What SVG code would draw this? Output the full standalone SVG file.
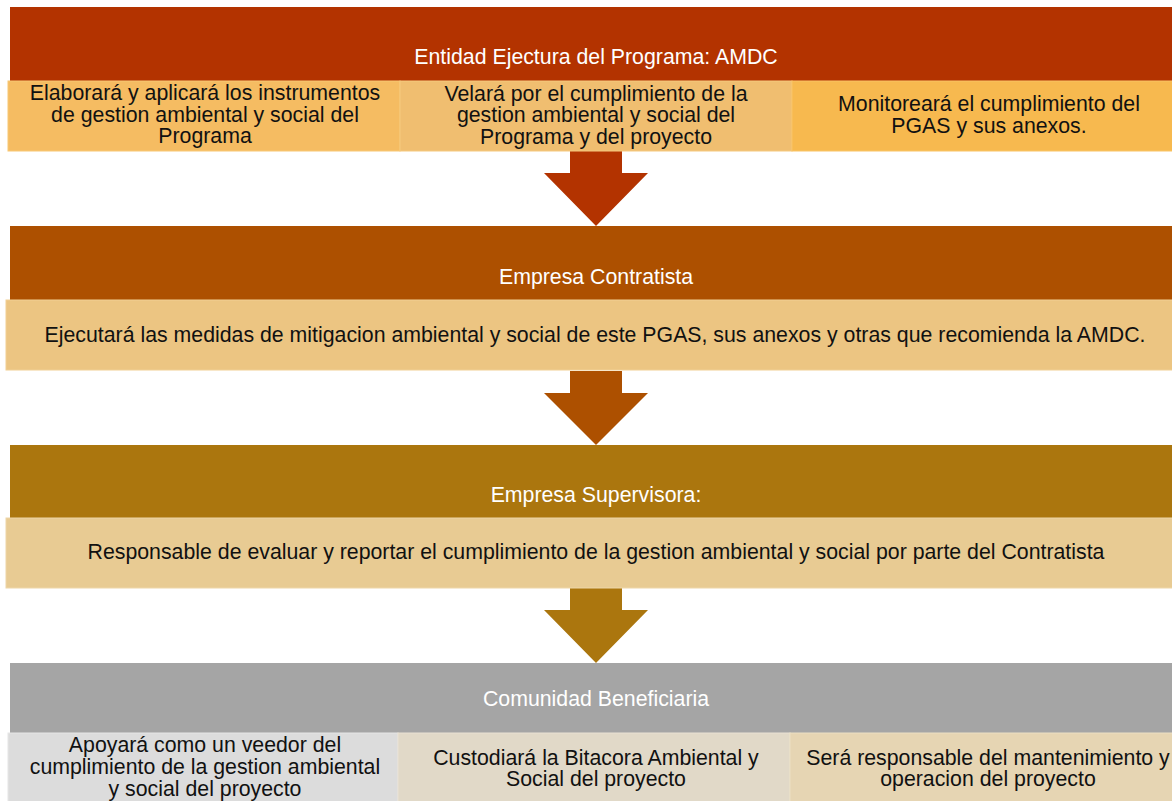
<svg xmlns="http://www.w3.org/2000/svg" width="1172" height="801" viewBox="0 0 1172 801">
<style>
text{font-family:"Liberation Sans",Arial,sans-serif;font-size:21.3px;text-anchor:middle}
.t{fill:#ffffff}
.b{fill:#111111}
</style>
<rect width="1172" height="801" fill="#ffffff"/>
<g id="connectors">
<path d="M570,151 H622 V173 H648 L596,226 L544,173 H570 Z" fill="#b33300"/>
<path d="M570,371 H622 V393 H648 L596,445 L544,393 H570 Z" fill="#ad5000"/>
<path d="M570,588 H622 V610 H648 L596,663 L544,610 H570 Z" fill="#ab760e"/>
</g>
<g id="amdc">
<rect x="10" y="7" width="1162" height="74" fill="#b33300"/>
<text class="t" x="596" y="64">Entidad Ejectura del Programa: AMDC</text>
</g>
<g id="amdc-1">
<rect x="8" y="81" width="392" height="70" fill="#f5bc62" stroke="#f8c874" stroke-width="1"/>
<text class="b" x="205" y="100">Elaborará y aplicará los instrumentos</text>
<text class="b" x="205" y="122">de gestion ambiental y social del</text>
<text class="b" x="205" y="143">Programa</text>
</g>
<g id="amdc-2">
<rect x="400" y="81" width="392" height="70" fill="#f0be70" stroke="#f5c97e" stroke-width="1"/>
<text class="b" x="596" y="101">Velará por el cumplimiento de la</text>
<text class="b" x="596" y="122">gestion ambiental y social del</text>
<text class="b" x="596" y="144">Programa y del proyecto</text>
</g>
<g id="amdc-3">
<rect x="792" y="81" width="390" height="70" fill="#f7b94f" stroke="#f9c466" stroke-width="1"/>
<text class="b" x="989" y="111">Monitoreará el cumplimiento del</text>
<text class="b" x="989" y="133">PGAS y sus anexos.</text>
</g>
<g id="contratista">
<rect x="10" y="226" width="1162" height="74" fill="#ad5000"/>
<text class="t" x="596" y="284">Empresa Contratista</text>
</g>
<g id="contratista-1">
<rect x="6" y="300" width="1176" height="70" fill="#ecc582" stroke="#f1cf94" stroke-width="1"/>
<text class="b" x="595" y="342">Ejecutará las medidas de mitigacion ambiental y social de este PGAS, sus anexos y otras que recomienda la AMDC.</text>
</g>
<g id="supervisora">
<rect x="10" y="445" width="1162" height="73" fill="#ab760e"/>
<text class="t" x="596" y="502">Empresa Supervisora:</text>
</g>
<g id="supervisora-1">
<rect x="6" y="518" width="1176" height="70" fill="#e8cb93" stroke="#eed6a8" stroke-width="1"/>
<text class="b" x="596" y="559">Responsable de evaluar y reportar el cumplimiento de la gestion ambiental y social por parte del Contratista</text>
</g>
<g id="comunidad">
<rect x="10" y="663" width="1162" height="70" fill="#a5a5a5"/>
<text class="t" x="596" y="706">Comunidad Beneficiaria</text>
</g>
<g id="comunidad-1">
<rect x="8" y="733" width="390" height="80" fill="#dcdcdc" stroke="#e6e6e6" stroke-width="1"/>
<text class="b" x="205" y="752">Apoyará como un veedor del</text>
<text class="b" x="205" y="774">cumplimiento de la gestion ambiental</text>
<text class="b" x="205" y="796">y social del proyecto</text>
</g>
<g id="comunidad-2">
<rect x="398" y="733" width="392" height="80" fill="#e1d9c8" stroke="#e9e2d3" stroke-width="1"/>
<text class="b" x="596" y="765">Custodiará la Bitacora Ambiental y</text>
<text class="b" x="596" y="786">Social del proyecto</text>
</g>
<g id="comunidad-3">
<rect x="790" y="733" width="392" height="80" fill="#e6d5b3" stroke="#ecdfc4" stroke-width="1"/>
<text class="b" x="988" y="765">Será responsable del mantenimiento y</text>
<text class="b" x="988" y="786">operacion del proyecto</text>
</g>
</svg>
